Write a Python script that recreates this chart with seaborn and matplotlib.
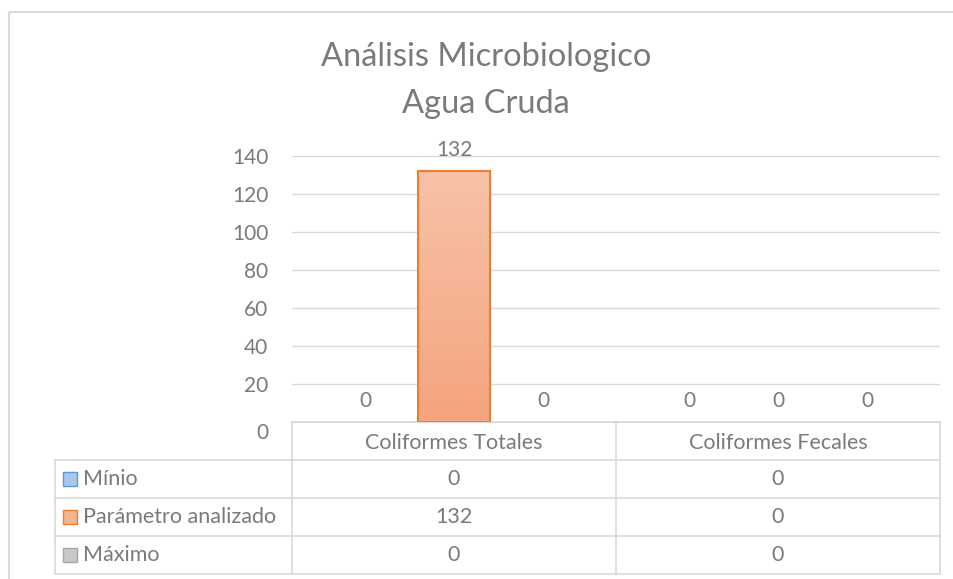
import numpy as np
import pandas as pd
import matplotlib
matplotlib.use("Agg")
import matplotlib.pyplot as plt
import matplotlib.transforms as mtransforms
import seaborn as sns
from matplotlib.patches import Rectangle
from matplotlib.lines import Line2D
from matplotlib.colors import LinearSegmentedColormap

# ---------------- data ----------------
title_lines = ["Análisis Microbiologico", "Agua Cruda"]
categories = ["Coliformes Totales", "Coliformes Fecales"]
series_names = ["Mínio", "Parámetro analizado", "Máximo"]
minimo = [0, 0]
parametro = [132, 0]
maximo = [0, 0]
y_ticks = [0, 20, 40, 60, 80, 100, 120, 140]

fills = ["#A9C8EB", "#F6B392", "#C9C9C9"]
edges = ["#5B9BD5", "#ED7D31", "#A5A5A5"]
grad_top, grad_bottom = "#F8C2A8", "#F4A47E"
txt = "#7a7a7a"
line_c = "#d9d9d9"

series_values = [minimo, parametro, maximo]
df = pd.DataFrame({
    "cat": categories * 3,
    "serie": sum([[s] * len(categories) for s in series_names], []),
    "val": minimo + parametro + maximo,
})

W, H = 954, 579
sns.set_style("white")
plt.rcParams["font.family"] = ["Lato", "DejaVu Sans"]

FS = 15.5

fig = plt.figure(figsize=(W / 100, H / 100), dpi=100)
fig.patch.set_facecolor("white")

ov = fig.add_axes([0, 0, 1, 1], zorder=0)
ov.set_xlim(0, W)
ov.set_ylim(H, 0)
ov.axis("off")

ax = fig.add_axes([292 / W, 1 - 422 / H, (940 - 292) / W, (422 - 156) / H], zorder=1)
ax.set_facecolor("none")

sns.barplot(data=df, x="cat", y="val", hue="serie", order=categories,
            hue_order=series_names, palette=fills, width=0.824, gap=0.18,
            ax=ax, legend=False, linewidth=1.5, err_kws={"linewidth": 0})

ax.set_xlim(-0.5, len(categories) - 0.5)
ax.set_ylim(0, 140)
ax.set_yticks(y_ticks)
ax.set_xlabel("")
ax.set_ylabel("")
ax.yaxis.grid(True, color=line_c, linewidth=1.0)
ax.set_axisbelow(True)
for s in ["top", "right", "left"]:
    ax.spines[s].set_visible(False)
ax.spines["bottom"].set_color(line_c)
ax.tick_params(axis="y", length=0, pad=17, labelsize=15, labelcolor=txt)
ax.tick_params(axis="x", length=0, pad=8, labelsize=FS, labelcolor=txt)

cmap = LinearSegmentedColormap.from_list("g", [grad_top, grad_bottom])
for i, cont in enumerate(ax.containers):
    for bar in cont:
        bar.set_edgecolor(edges[i])
        h = bar.get_height()
        if h == 0:
            bar.set_linewidth(0)
        elif i == 1:
            x0 = bar.get_x()
            w = bar.get_width()
            ax.imshow(np.linspace(0, 1, 256).reshape(-1, 1), cmap=cmap,
                      extent=[x0, x0 + w, 0, h], aspect="auto",
                      zorder=bar.get_zorder() - 0.05, origin="upper")
            bar.set_facecolor("none")
    ax.bar_label(cont, labels=[f"{int(b.get_height())}" for b in cont],
                 padding=8, color=txt, fontsize=15)

ax.set_xlim(-0.5, len(categories) - 0.5)
ax.set_ylim(0, 140)

# shift the "0" tick label a little down, as in the reference
lab0 = ax.get_yticklabels()[0]
lab0.set_transform(lab0.get_transform() +
                   mtransforms.ScaledTranslation(0, -9 / 100, fig.dpi_scale_trans))

# ---------------- data table ----------------
fig.canvas.draw()
def px(xd):
    return ax.transData.transform((xd, 0))[0]

bounds = [px(b - 0.5) for b in range(len(categories) + 1)]
centers = [px(c) for c in range(len(categories))]
left_x = 55
row_tops = [460, 498, 536, 574]
header_top = 422

for y in row_tops:
    ov.add_line(Line2D([left_x, bounds[-1]], [y, y], color=line_c, lw=1.2))
ov.add_line(Line2D([bounds[0], bounds[-1]], [header_top, header_top], color=line_c, lw=1.2))
for b in bounds:
    ov.add_line(Line2D([b, b], [header_top, row_tops[-1]], color=line_c, lw=1.2))
ov.add_line(Line2D([left_x, left_x], [row_tops[0], row_tops[-1]], color=line_c, lw=1.2))

for r, name in enumerate(series_names):
    yc = (row_tops[r] + row_tops[r + 1]) / 2
    ov.add_patch(Rectangle((63, yc - 7), 14, 14, facecolor=fills[r],
                           edgecolor=edges[r], lw=1.0))
    ov.text(83, yc, name, ha="left", va="center", fontsize=FS, color=txt)
    for c, xc in enumerate(centers):
        ov.text(xc, yc, f"{series_values[r][c]}", ha="center", va="center",
                fontsize=FS, color=txt)

# chart border
ov.add_patch(Rectangle((9, 12), 1200, 1200, fill=False, edgecolor=line_c, lw=1.5))

# title
ov.text(486, 66, title_lines[0], ha="center", va="baseline", fontsize=23.5, color=txt)
ov.text(486, 113, title_lines[1], ha="center", va="baseline", fontsize=23.5, color=txt)

fig.savefig("out.png", dpi=100)
